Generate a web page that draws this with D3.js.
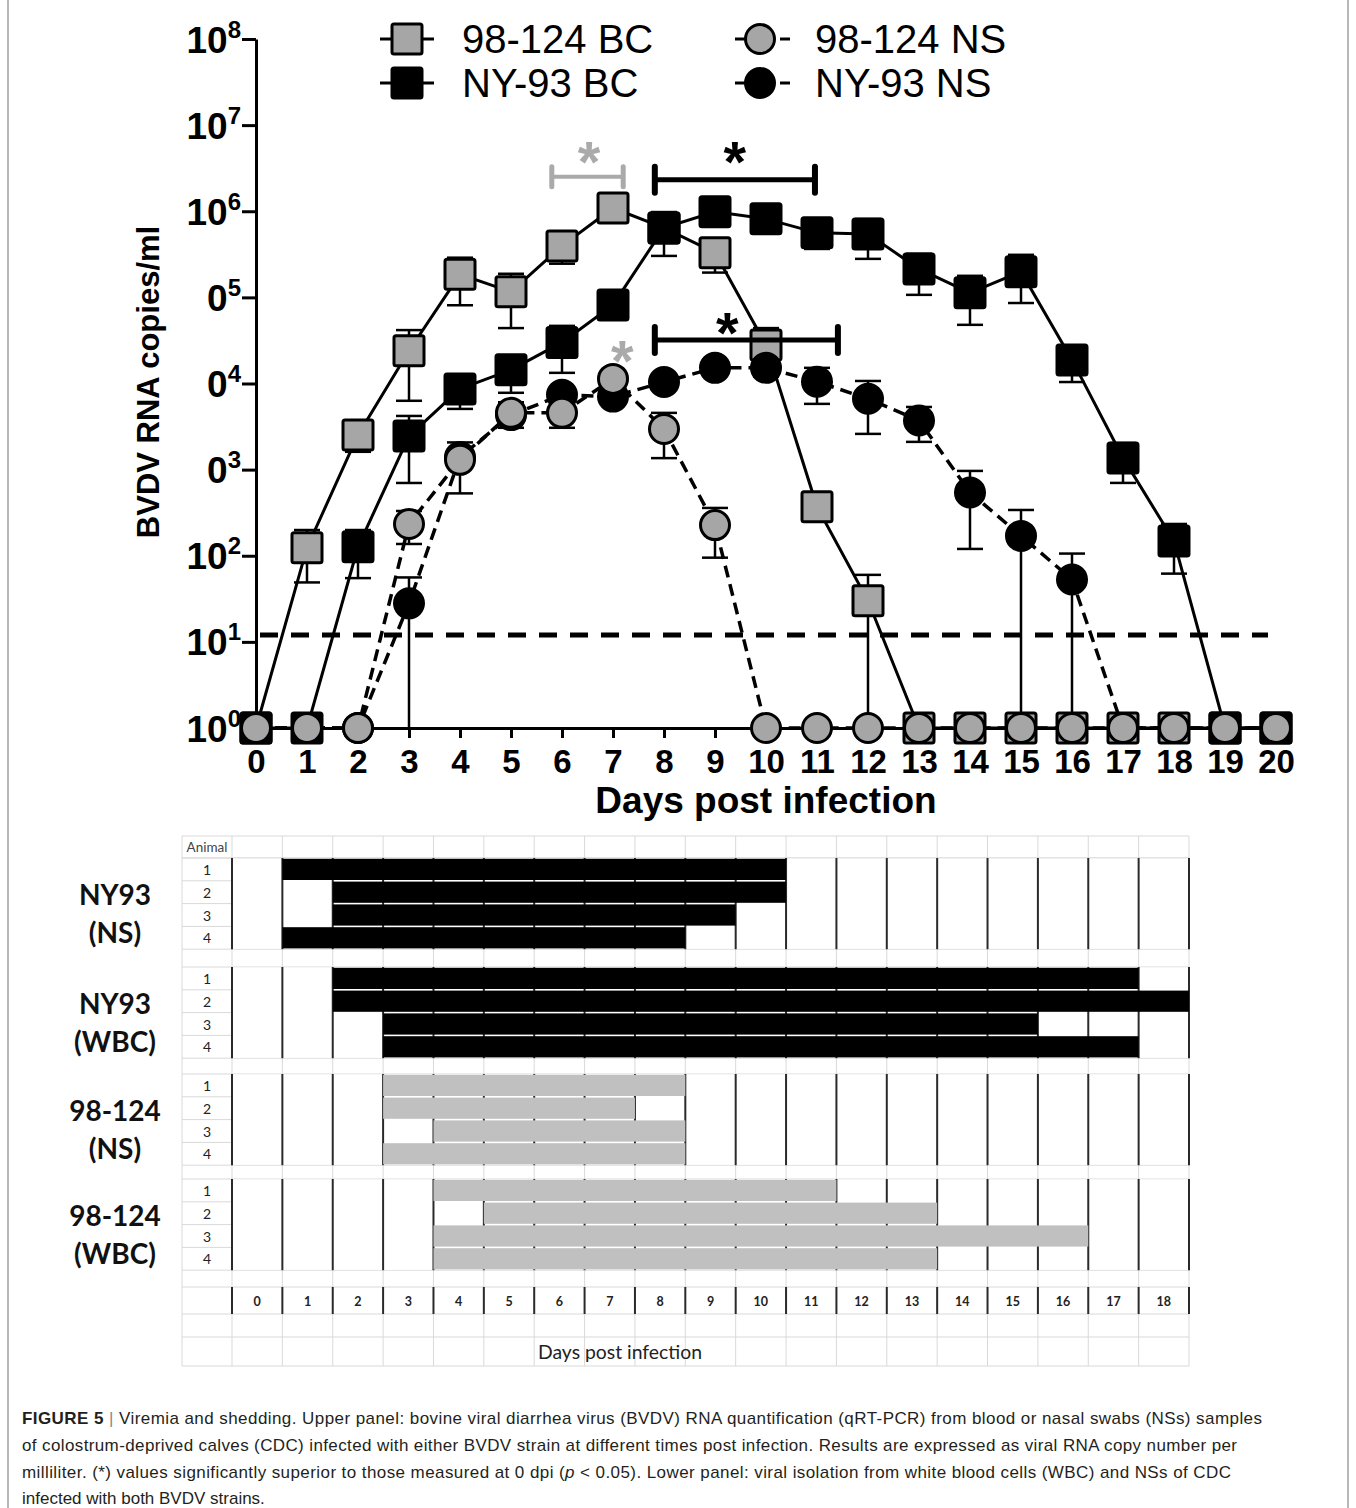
<!DOCTYPE html>
<html><head><meta charset="utf-8">
<script src="https://cdn.jsdelivr.net/npm/d3@7"></script>
<style>body{margin:0;background:#fff}svg{display:block}</style>
</head><body>
<svg id="c" width="1356" height="1508"></svg>
<script>
// ---------------- DATA ----------------
const days = [0,1,2,3,4,5,6,7,8,9,10,11,12,13,14,15,16,17,18,19,20];
// mean RNA copies/ml (0 = not detected, drawn on the 10^0 line) and SEM
const bc98      = [0,124,2530,24000,185000,116000,396000,1090000,640000,330000,28000,370,30,0,0,0,0,0,0,0,0];
const bc98Sem   = [0,75,920,17700,104000,72000,150000,200000,100000,136000,16000,80,30,0,0,0,0,0,0,0,0];
const ny93bc    = [0,0,127,2450,8650,14400,30000,81800,641000,984000,816000,561000,546000,214000,113000,199000,18800,1368,148,0,0];
const ny93bcSem = [0,0,72,1750,3580,6600,16700,10000,338000,100000,100000,196000,266000,107000,65000,113000,8400,667,86,0,0];
const ny93ns    = [0,0,0,28,1400,4300,7380,7050,10400,15200,15200,10500,6650,3720,543,170,53,0,0,0,0];
const ny93nsSem = [0,0,0,28,300,800,1000,1000,1500,2000,2000,4700,4050,1620,423,170,53,0,0,0,0];
const ns98      = [0,0,0,234,1300,4560,4560,11300,2960,227,0,0,0,0,0,0,0,0,0,0,0];
const ns98Sem   = [0,0,0,97,770,1500,1500,1500,1600,132,0,0,0,0,0,0,0,0,0,0,0];
const detectionLimit = 12;

const yTicks    = [1,10,100,1e3,1e4,1e5,1e6,1e7,1e8];
const yTickBase = ["10","10","10","0","0","0","10","10","10"];
const yTickExp  = ["0","1","2","3","4","5","6","7","8"];

const legendLabels = ["98-124 BC","NY-93 BC","98-124 NS","NY-93 NS"];

// significance brackets (days from/to, level in copies/ml) and stars
const brackets = [
  {from:5.8,  to:7.2,   level:Math.pow(10,6.40),  grey:true},
  {from:7.82, to:10.96, level:Math.pow(10,6.365), grey:false},
  {from:7.82, to:11.41, level:Math.pow(10,4.506), grey:false}
];
const stars = [
  {day:6.53, level:Math.pow(10,6.72), grey:true},
  {day:9.39, level:Math.pow(10,6.72), grey:false},
  {day:9.24, level:Math.pow(10,4.74), grey:false},
  {day:7.18, level:Math.pow(10,4.41), grey:true}
];

// lower panel: virus isolation, first and last positive day per animal
const tableDays = [0,1,2,3,4,5,6,7,8,9,10,11,12,13,14,15,16,17,18];
const animals = ["1","2","3","4"];
const ny93NsRows  = [[1,10],[2,10],[2,9],[1,8]];
const ny93WbcRows = [[2,17],[2,18],[3,15],[3,17]];
const ns98Rows    = [[3,8],[3,7],[4,8],[3,8]];
const wbc98Rows   = [[4,11],[5,13],[4,16],[4,13]];
const groupLabels = [["NY93","(NS)"],["NY93","(WBC)"],["98-124","(NS)"],["98-124","(WBC)"]];

// ---------------- DRAW ----------------
const GRAY = "#a6a6a6", BAR_GRAY = "#c0c0c0";
const svg = d3.select("#c");
const FONT = "'Liberation Sans', Arial, sans-serif";
const TFONT = "Lato, 'Open Sans', sans-serif";

// frame
svg.append("rect").attr("x",8).attr("y",-5).attr("width",1340).attr("height",1520)
  .attr("fill","none").attr("stroke","#a0a0a0").attr("stroke-width",1.5);

const x = d3.scaleLinear().domain([0,20]).range([256,1276]);
const y = d3.scaleLog().domain([1,1e8]).range([728,39]);
const yv = v => y(Math.max(v,1));

// axes
const yAxis = d3.axisLeft(y).tickValues(yTicks).tickSize(14).tickSizeOuter(0).tickFormat("");
const gy = svg.append("g").attr("transform","translate(256,0)").call(yAxis);
gy.selectAll("path,line").attr("stroke","#000").attr("stroke-width",3);
gy.selectAll(".tick").each(function(d,i){
  const t = d3.select(this).append("text").attr("x",-15).attr("y",13)
    .attr("text-anchor","end").attr("fill","#000")
    .style("font-family",FONT).style("font-weight","bold").style("font-size","37px");
  t.append("tspan").text(yTickBase[i]);
  t.append("tspan").attr("dy",-15).style("font-size","24px").text(yTickExp[i]);
});

const xAxis = d3.axisBottom(x).tickValues(days).tickSize(10).tickSizeOuter(0).tickPadding(12).tickFormat(d3.format("d"));
const gx = svg.append("g").attr("transform","translate(0,728)").call(xAxis);
gx.selectAll("path,line").attr("stroke","#000").attr("stroke-width",3);
gx.selectAll("text").attr("fill","#000").style("font-family",FONT).style("font-weight","bold").style("font-size","33px");

svg.append("text").attr("x",766).attr("y",813).attr("text-anchor","middle")
  .style("font-family",FONT).style("font-weight","bold").style("font-size","37px").text("Days post infection");
svg.append("text").attr("transform","translate(159,382) rotate(-90)").attr("text-anchor","middle")
  .style("font-family",FONT).style("font-weight","bold").style("font-size","31px").text("BVDV RNA copies/ml");

// detection limit
svg.append("line").attr("x1",x(0)+4).attr("x2",x(20)-8).attr("y1",y(detectionLimit)).attr("y2",y(detectionLimit))
  .attr("stroke","#000").attr("stroke-width",5).attr("stroke-dasharray","18,13");

const series = [
  {values:bc98,   sem:bc98Sem,   shape:"square", fill:GRAY,   dash:null},
  {values:ny93bc, sem:ny93bcSem, shape:"square", fill:"#000", dash:null},
  {values:ny93ns, sem:ny93nsSem, shape:"circle", fill:"#000", dash:"12,7"},
  {values:ns98,   sem:ns98Sem,   shape:"circle", fill:GRAY,   dash:"12,7"}
];
const line = d3.line().x((d,i)=>x(days[i])).y(d=>yv(d));
series.forEach(s=>{
  svg.append("path").attr("d",line(s.values)).attr("fill","none").attr("stroke","#000")
    .attr("stroke-width",s.dash ? 3.5 : 3).attr("stroke-dasharray",s.dash);
});
// error bars (mean ± SEM)
series.forEach(s=>{
  s.values.forEach((v,i)=>{
    if(!s.sem[i]) return;
    const hi = v + s.sem[i], lo = v - s.sem[i];
    const cx = x(days[i]);
    svg.append("line").attr("x1",cx).attr("x2",cx).attr("y1",yv(lo)).attr("y2",yv(hi))
      .attr("stroke","#000").attr("stroke-width",2.5);
    svg.append("line").attr("x1",cx-13).attr("x2",cx+13).attr("y1",yv(hi)).attr("y2",yv(hi))
      .attr("stroke","#000").attr("stroke-width",2.5);
    if(lo > 1) svg.append("line").attr("x1",cx-13).attr("x2",cx+13).attr("y1",yv(lo)).attr("y2",yv(lo))
      .attr("stroke","#000").attr("stroke-width",2.5);
  });
});
function marker(g, shape, cx, cy, fill){
  if(shape==="square"){
    g.append("rect").attr("x",cx-15).attr("y",cy-15).attr("width",30).attr("height",30).attr("rx",2)
      .attr("fill",fill).attr("stroke","#000").attr("stroke-width",3);
  } else {
    g.append("circle").attr("cx",cx).attr("cy",cy).attr("r",14.5)
      .attr("fill",fill).attr("stroke","#000").attr("stroke-width",3);
  }
}
series.forEach(s=>{
  s.values.forEach((v,i)=>marker(svg, s.shape, x(days[i]), yv(v), s.fill));
});

// significance
brackets.forEach(b=>{
  const c = b.grey ? "#aaaaaa" : "#000", by = y(b.level), h = b.grey ? 10 : 13, w = b.grey ? 4 : 5;
  svg.append("line").attr("x1",x(b.from)).attr("x2",x(b.to)).attr("y1",by).attr("y2",by).attr("stroke",c).attr("stroke-width",w);
  [b.from,b.to].forEach(d=>svg.append("line").attr("x1",x(d)).attr("x2",x(d)).attr("y1",by-h).attr("y2",by+h)
    .attr("stroke",c).attr("stroke-width",w+1).attr("stroke-linecap","round"));
});
stars.forEach(s=>{
  svg.append("text").attr("x",x(s.day)).attr("y",y(s.level)+33).attr("text-anchor","middle")
    .attr("fill", s.grey ? "#aaaaaa" : "#000")
    .style("font-family",FONT).style("font-weight","bold").style("font-size","58px").text("*");
});

// legend
const legendPos = [{lx:380, tx:462, ly:39},{lx:380, tx:462, ly:83},{lx:735, tx:815, ly:39},{lx:735, tx:815, ly:83}];
const legendShape = [["square",GRAY],["square","#000"],["circle",GRAY],["circle","#000"]];
legendLabels.forEach((lab,i)=>{
  const p = legendPos[i], sh = legendShape[i];
  if(sh[0]==="square"){
    svg.append("line").attr("x1",p.lx).attr("x2",p.lx+54).attr("y1",p.ly).attr("y2",p.ly).attr("stroke","#000").attr("stroke-width",3);
    marker(svg,"square",p.lx+27,p.ly,sh[1]);
  } else {
    svg.append("line").attr("x1",p.lx).attr("x2",p.lx+55).attr("y1",p.ly).attr("y2",p.ly).attr("stroke","#000")
      .attr("stroke-width",3).attr("stroke-dasharray","15,30,10");
    marker(svg,"circle",p.lx+25,p.ly,sh[1]);
  }
  svg.append("text").attr("x",p.tx).attr("y",p.ly+14).style("font-family",FONT).style("font-size","40px").text(lab);
});

// ---------------- LOWER PANEL ----------------
const tX = d3.scaleBand().domain(tableDays).range([232,1189]);
const colB = tableDays.map(d=>tX(d)).concat([1189]);
const rowH = 22.8;
const groupTops = [858, 967, 1074, 1179];
const groupRows = [ny93NsRows, ny93WbcRows, ns98Rows, wbc98Rows];
const groupFill = ["#000","#000",BAR_GRAY,BAR_GRAY];
const tTop = 836, dayRowTop = 1287, dayRowBot = 1314, tBot = 1366;
const LG = "#d9d9d9";

// light grid
const hLines = [tTop, 858];
groupTops.forEach(t=>{ for(let k=0;k<=4;k++) hLines.push(t+k*rowH); });
hLines.push(dayRowTop, dayRowBot, 1337, tBot);
hLines.forEach(h=>svg.append("line").attr("x1",182).attr("x2",1189).attr("y1",h).attr("y2",h).attr("stroke",LG).attr("stroke-width",1));
[182].concat(colB).forEach(v=>svg.append("line").attr("x1",v).attr("x2",v).attr("y1",tTop).attr("y2",tBot).attr("stroke",LG).attr("stroke-width",1));

function darkVerticals(top, bot){
  colB.forEach(v=>svg.append("line").attr("x1",v).attr("x2",v).attr("y1",top).attr("y2",bot).attr("stroke","#2a2a2a").attr("stroke-width",2));
}
groupTops.forEach((t,gi)=>{
  svg.append("rect").attr("x",232.5).attr("y",t+0.5).attr("width",1189-232.5).attr("height",4*rowH-1).attr("fill","#fff");
  darkVerticals(t, t+4*rowH);
  groupRows[gi].forEach((r,ri)=>{
    svg.append("rect").attr("x",tX(r[0])).attr("y",t+ri*rowH+0.8)
      .attr("width",tX(r[1])+tX.bandwidth()-tX(r[0])).attr("height",rowH-1.6).attr("fill",groupFill[gi]);
  });
  animals.forEach((a,ri)=>svg.append("text").attr("x",207).attr("y",t+ri*rowH+17).attr("text-anchor","middle")
    .style("font-family",TFONT).style("font-size","14px").attr("fill","#222").text(a));
  svg.append("text").attr("x",115).attr("y",t+47).attr("text-anchor","middle")
    .style("font-family",TFONT).style("font-weight","bold").style("font-size","28px").attr("fill","#111").text(groupLabels[gi][0]);
  svg.append("text").attr("x",115).attr("y",t+85).attr("text-anchor","middle")
    .style("font-family",TFONT).style("font-weight","bold").style("font-size","28px").attr("fill","#111").text(groupLabels[gi][1]);
});
svg.append("text").attr("x",207).attr("y",852).attr("text-anchor","middle")
  .style("font-family",TFONT).style("font-size","13.5px").attr("fill","#444").text("Animal");
darkVerticals(dayRowTop, dayRowBot);
tableDays.forEach(d=>svg.append("text").attr("x",tX(d)+tX.bandwidth()/2).attr("y",1306).attr("text-anchor","middle")
  .style("font-family",TFONT).style("font-weight","bold").style("font-size","12.5px").attr("fill","#222").text(d));
svg.append("text").attr("x",620).attr("y",1359).attr("text-anchor","middle").attr("textLength",164).attr("lengthAdjust","spacingAndGlyphs")
  .style("font-family",TFONT).style("font-size","20px").attr("fill","#222").text("Days post infection");

// ---------------- CAPTION ----------------
const cap = [
  {y:1424, len:1240},
  {y:1451, len:1215},
  {y:1478, len:1209},
  {y:1504, len:null}
];
function capLine(i){
  const t = svg.append("text").attr("x",22).attr("y",cap[i].y).attr("fill","#231f20")
    .style("font-family",FONT).style("font-size","17px");
  if(cap[i].len) t.attr("textLength",cap[i].len).attr("lengthAdjust","spacing");
  return t;
}
let t0 = capLine(0);
t0.append("tspan").style("font-weight","bold").text("FIGURE 5");
t0.append("tspan").attr("fill","#888").text(" | ");
t0.append("tspan").text("Viremia and shedding. Upper panel: bovine viral diarrhea virus (BVDV) RNA quantification (qRT-PCR) from blood or nasal swabs (NSs) samples");
capLine(1).text("of colostrum-deprived calves (CDC) infected with either BVDV strain at different times post infection. Results are expressed as viral RNA copy number per");
let t2 = capLine(2);
t2.append("tspan").text("milliliter. (*) values significantly superior to those measured at 0 dpi (");
t2.append("tspan").style("font-style","italic").text("p");
t2.append("tspan").text(" < 0.05). Lower panel: viral isolation from white blood cells (WBC) and NSs of CDC");
capLine(3).text("infected with both BVDV strains.");
</script>
</body></html>
